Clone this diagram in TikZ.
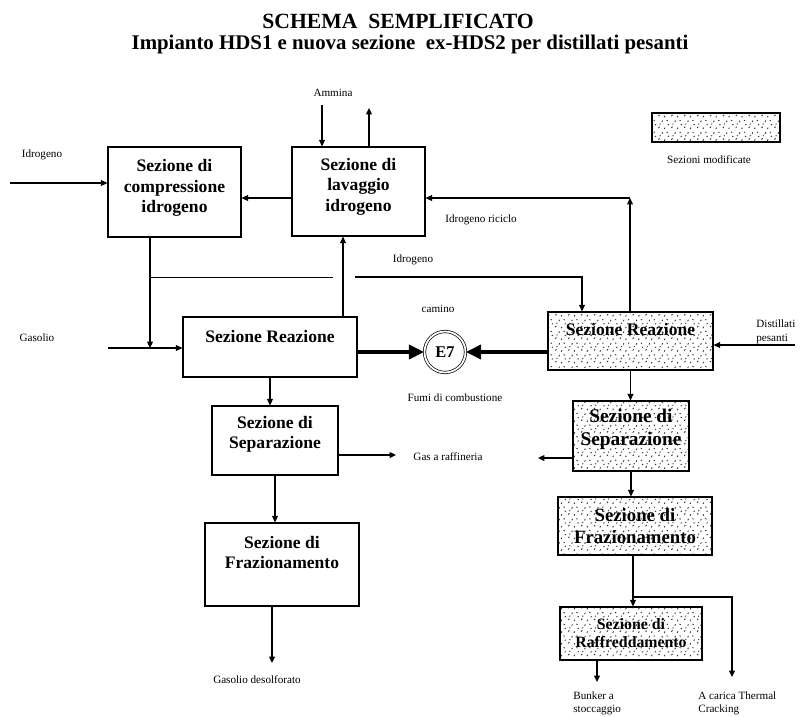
\documentclass[tikz,border=0pt]{standalone}
\usepackage{fontspec}
\setmainfont{Liberation Serif}
\usetikzlibrary{arrows.meta,patterns}

% speckled fill of the modified sections
\pgfdeclarepatternformonly{speckle}{\pgfqpoint{-1pt}{-1pt}}{\pgfqpoint{12pt}{11pt}}{\pgfqpoint{11pt}{10pt}}{%
  \pgfsetlinewidth{0.75pt}
  \pgfpathmoveto{\pgfqpoint{1pt}{2pt}}\pgfpathlineto{\pgfqpoint{2pt}{3pt}}
  \pgfpathmoveto{\pgfqpoint{6pt}{1pt}}\pgfpathlineto{\pgfqpoint{6.6pt}{2.2pt}}
  \pgfpathmoveto{\pgfqpoint{9pt}{4.5pt}}\pgfpathlineto{\pgfqpoint{10pt}{5pt}}
  \pgfpathmoveto{\pgfqpoint{4pt}{7pt}}\pgfpathlineto{\pgfqpoint{4.6pt}{8.2pt}}
  \pgfpathmoveto{\pgfqpoint{8pt}{8.5pt}}\pgfpathlineto{\pgfqpoint{9pt}{8pt}}
  \pgfpathmoveto{\pgfqpoint{2pt}{5pt}}\pgfpathlineto{\pgfqpoint{2.8pt}{5.5pt}}
  \pgfusepath{stroke}}

\begin{document}
\begin{tikzpicture}
  [x=0.03cm,y=-0.03cm,
   box/.style={draw,line width=1pt,align=center,inner sep=0pt,
     font=\bfseries\fontsize{15}{17.5}\selectfont},
   newbox/.style={box,pattern=speckle,pattern color=black!80},
   lbl/.style={inner sep=1pt,align=left,font=\fontsize{9.5}{11.5}\selectfont},
   flow/.style={-{Triangle[length=5.5pt,width=5pt]},line width=0.9pt},
   fumi/.style={-{Triangle[length=13pt,width=12pt]},line width=4pt}]
  \useasboundingbox (0,0) rectangle (801,716);

  \node (t1) [font=\bfseries\fontsize{18.5}{20}\selectfont] at (398,21) {SCHEMA\ \ SEMPLIFICATO};
  \node (t2) [font=\bfseries\fontsize{17.8}{20}\selectfont] at (410,44) {Impianto HDS1 e nuova sezione\ \ ex-HDS2 per distillati pesanti};

  \node (1) [box,minimum width=3.99cm,minimum height=2.7cm,text depth=0.34cm] at (174.5,192) {Sezione di\\compressione\\idrogeno};
  \node (2) [box,minimum width=3.99cm,minimum height=2.67cm,text depth=0.4cm] at (358.5,191.5) {Sezione di\\lavaggio\\idrogeno};
  \node (3) [box,minimum width=5.22cm,minimum height=1.8cm,text depth=0.66cm] at (270,347) {Sezione Reazione};
  \node (4) [box,minimum width=3.78cm,minimum height=2.07cm,text depth=0.5cm] at (275,440.5) {Sezione di\\Separazione};
  \node (5) [box,minimum width=4.62cm,minimum height=2.49cm,text depth=0.72cm] at (282,564.5) {Sezione di\\Frazionamento};
  \node (6) [newbox,minimum width=4.95cm,minimum height=1.74cm,text depth=0.72cm] at (630.5,341) {Sezione Reazione};
  \node (7) [newbox,minimum width=3.48cm,minimum height=2.1cm,text depth=0.52cm,
    font=\bfseries\fontsize{16.5}{19}\selectfont] at (631,436) {Sezione di\\Separazione};
  \node (8) [newbox,minimum width=4.62cm,minimum height=1.74cm,
    font=\bfseries\fontsize{16}{19}\selectfont] at (635,526) {Sezione di\\Frazionamento};
  \node (9) [newbox,minimum width=4.26cm,minimum height=1.59cm,
    font=\bfseries\fontsize{13.5}{15.5}\selectfont] at (631,633.5) {Sezione di\\Raffreddamento};
  \node (10) [newbox,minimum width=3.84cm,minimum height=0.87cm] at (716,127.5) {};
  \node (11) [circle,draw,line width=0.6pt,double,double distance=1.5pt,minimum size=1.23cm,
    inner sep=0pt,font=\bfseries\fontsize{14}{16}\selectfont] at (445,352) {E7};

  \node (l1) [lbl] at (42,155) {Idrogeno};
  \node (l2) [lbl] at (37,338) {Gasolio};
  \node (l3) [lbl] at (333,93) {Ammina};
  \node (l4) [lbl] at (413,260) {Idrogeno};
  \node (l5) [lbl] at (481,220) {Idrogeno riciclo};
  \node (l6) [lbl] at (438,309) {camino};
  \node (l7) [lbl] at (455,398) {Fumi di combustione};
  \node (l8) [lbl,anchor=west] at (755,332) {Distillati\\pesanti};
  \node (l9) [lbl] at (448,457) {Gas a raffineria};
  \node (l10) [lbl] at (257,680) {Gasolio desolforato};
  \node (l11) [lbl] at (709,160) {Sezioni modificate};
  \node (l12) [lbl,anchor=north west] at (572,690) {Bunker a\\stoccaggio};
  \node (l13) [lbl,anchor=north west] at (697,690) {A carica Thermal\\Cracking};

  \coordinate (i1) at (10,183);
  \coordinate (g0) at (108,348);
  \coordinate (h1) at (150,277);
  \coordinate (v1) at (343,277);
  \coordinate (h2) at (582,277);
  \coordinate (a1) at (322,105);
  \coordinate (a2) at (369,108);
  \coordinate (w1) at (292,198);
  \coordinate (r1) at (630,198);
  \coordinate (d1) at (795,345);
  \coordinate (s1) at (396,455);
  \coordinate (s2) at (538,458);
  \coordinate (o1) at (272,663);
  \coordinate (b1) at (633,597);
  \coordinate (b2) at (732,677);
  \coordinate (b3) at (597,682);

  \draw[flow] (i1) -- (i1 -| 1.west);
  \draw[flow] (g0) -- (g0 -| 3.west);
  \draw[flow] (1.south -| h1) -- (h1 |- g0);
  \draw (h1) -- ([xshift=-0.3cm]v1);
  \draw[flow] ([xshift=0.36cm]v1) -- (h2) -- (h2 |- 6.north);
  \draw[flow] (3.north -| v1) -- (2.south -| v1);
  \draw[flow] (2.west |- w1) -- (1.east |- w1);
  \draw[flow] (a1) -- (a1 |- 2.north);
  \draw[flow] (2.north -| a2) -- (a2);
  \draw[flow] (6.north -| r1) -- (r1);
  \draw[flow] (r1) -- (r1 -| 2.east);
  \draw[flow] (d1) -- (d1 -| 6.east);
  \draw[fumi] (3.east |- 11) -- (11.west);
  \draw[fumi] (6.west |- 11) -- (11.east);

  \foreach \from/\to in {3/4,4/5,6/7,7/8}
    \draw[flow] (\from.south) -- (\from.south |- \to.north);

  \draw[flow] (4.east |- s1) -- (s1);
  \draw[flow] (7.west |- s2) -- (s2);
  \draw[flow] (5.south -| o1) -- (o1);
  \draw[flow] (8.south -| b1) -- (b1 |- 9.north);
  \draw[flow] (b1) -| (b2);
  \draw[flow] (9.south -| b3) -- (b3);

\end{tikzpicture}
\end{document}
